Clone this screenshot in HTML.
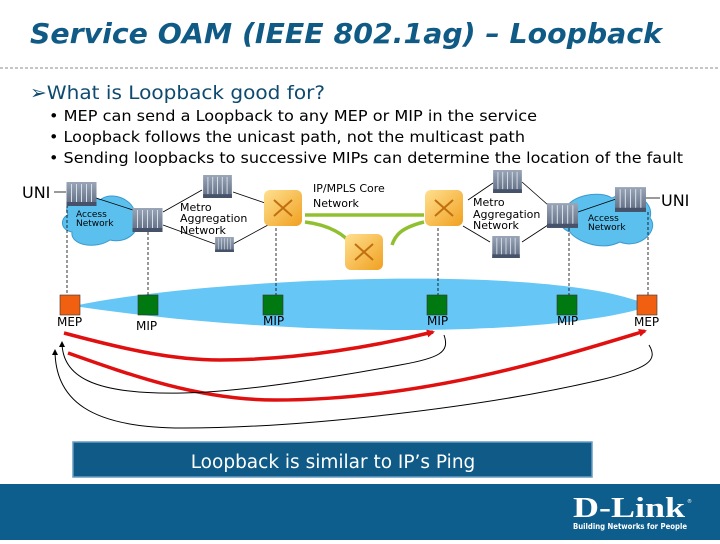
<!DOCTYPE html>
<html><head><style>
body{margin:0;width:720px;height:540px;overflow:hidden;background:#fff;font-family:"DejaVu Sans","Liberation Sans",sans-serif}
</style></head><body>
<svg width="720" height="540" xmlns="http://www.w3.org/2000/svg" font-family="DejaVu Sans, Liberation Sans, sans-serif">
<defs>
<marker id="ar" markerWidth="8" markerHeight="8" refX="6" refY="4" orient="auto" markerUnits="userSpaceOnUse"><path d="M0,0 L8,4 L0,8 z" fill="#e01010"/></marker>
<marker id="ab" markerWidth="6" markerHeight="8" refX="5" refY="4" orient="auto" markerUnits="userSpaceOnUse"><path d="M0,1 L6,4 L0,7 z" fill="#000"/></marker>
<linearGradient id="sw" x1="0" y1="0" x2="0" y2="1"><stop offset="0" stop-color="#9aa6b8"/><stop offset="1" stop-color="#5d6a80"/></linearGradient>
<linearGradient id="rt" x1="0" y1="0" x2="1" y2="1"><stop offset="0" stop-color="#ffe090"/><stop offset="1" stop-color="#f0a020"/></linearGradient>
<symbol id="s" viewBox="0 0 30 24"><rect width="30" height="24" fill="url(#sw)"/><g stroke="#d8dee8" stroke-width="1"><line x1="5" y1="2" x2="5" y2="22"/><line x1="10" y1="2" x2="10" y2="22"/><line x1="15" y1="2" x2="15" y2="22"/><line x1="20" y1="2" x2="20" y2="22"/><line x1="25" y1="2" x2="25" y2="22"/></g><rect y="20" width="30" height="4" fill="#46526a"/></symbol>
<symbol id="r" viewBox="0 0 44 42"><rect x="2" y="4" width="38" height="36" rx="6" fill="url(#rt)"/><path d="M12 14 L30 30 M12 30 L30 14" stroke="#c07010" stroke-width="2" fill="none"/></symbol>
</defs>
<text x="30" y="43" font-size="28" font-weight="bold" font-style="italic" fill="#105a86" textLength="632" lengthAdjust="spacingAndGlyphs">Service OAM (IEEE 802.1ag) – Loopback</text>
<line x1="0" y1="68" x2="720" y2="68" stroke="#666" stroke-dasharray="3,2" stroke-width="0.8"/>
<text x="30" y="99" font-size="19" fill="#0e4a70" textLength="295" lengthAdjust="spacingAndGlyphs">➢What is Loopback good for?</text>
<g font-size="15" fill="#000"><text x="49" y="121" textLength="488" lengthAdjust="spacingAndGlyphs">• MEP can send a Loopback to any MEP or MIP in the service</text><text x="49" y="142" textLength="476" lengthAdjust="spacingAndGlyphs">• Loopback follows the unicast path, not the multicast path</text><text x="49" y="163" textLength="634" lengthAdjust="spacingAndGlyphs">• Sending loopbacks to successive MIPs can determine the location of the fault</text></g>
<path d="M74 306 C 200 278, 560 262, 650 306 C 560 336, 300 340, 74 306 Z" fill="#66c6f5"/>
<g fill="#5cc0ee" stroke="#3b9ad0"><path d="M68 215 C60 200,90 192,100 200 C112 190,135 200,135 215 C145 225,130 245,110 240 C95 250,70 245,72 232 C60 230,60 218,68 215 Z"/>
<path d="M565 210 C570 195,600 190,612 198 C630 188,655 200,650 218 C660 230,640 250,620 242 C600 252,575 240,570 232 C558 228,558 215,565 210 Z"/></g>
<g stroke="#000" stroke-width="0.8" fill="none">
<line x1="54" y1="192" x2="66" y2="192"/><line x1="96" y1="198" x2="133" y2="210"/>
<line x1="163" y1="212" x2="202" y2="190"/><line x1="163" y1="225" x2="215" y2="244"/>
<line x1="233" y1="192" x2="265" y2="203"/><line x1="233" y1="244" x2="268" y2="225"/>
<line x1="468" y1="200" x2="493" y2="183"/><line x1="463" y1="226" x2="490" y2="242"/>
<line x1="522" y1="182" x2="548" y2="205"/><line x1="522" y1="242" x2="548" y2="225"/>
<line x1="578" y1="212" x2="616" y2="199"/><line x1="645" y1="198" x2="660" y2="198"/>
</g>
<g stroke="#90c030" stroke-width="3.5" fill="none"><line x1="305" y1="215" x2="424" y2="215"/><path d="M305 222 C330 225,345 235,352 245"/><path d="M424 222 C400 228,395 236,392 245"/></g>
<g stroke="#000" stroke-width="0.8" stroke-dasharray="3,2"><line x1="67" y1="205" x2="67" y2="295"/><line x1="148" y1="232" x2="148" y2="295"/><line x1="276" y1="228" x2="276" y2="295"/><line x1="438" y1="228" x2="438" y2="295"/><line x1="569" y1="228" x2="569" y2="295"/><line x1="648" y1="212" x2="648" y2="295"/></g>
<use href="#s" x="66" y="182" width="31" height="24"/><use href="#s" x="132" y="208" width="31" height="24"/>
<use href="#s" x="202" y="175" width="31" height="23"/><use href="#s" x="215" y="237" width="19" height="15"/>
<use href="#s" x="492" y="170" width="31" height="23"/><use href="#s" x="490" y="236" width="32" height="22"/>
<use href="#s" x="547" y="203" width="31" height="25"/><use href="#s" x="615" y="187" width="31" height="25"/>
<use href="#r" x="262" y="186" width="44" height="42"/><use href="#r" x="343" y="230" width="44" height="42"/><use href="#r" x="423" y="186" width="44" height="42"/>
<g font-size="11" fill="#000"><text x="180" y="211">Metro</text><text x="180" y="222">Aggregation</text><text x="180" y="234">Network</text>
<text x="473" y="206">Metro</text><text x="473" y="218">Aggregation</text><text x="473" y="229">Network</text>
<text x="313" y="192">IP/MPLS Core</text><text x="313" y="207">Network</text></g>
<g font-size="9" fill="#000"><text x="76" y="217">Access</text><text x="76" y="226">Network</text><text x="588" y="221">Access</text><text x="588" y="230">Network</text></g>
<text x="22" y="198" font-size="16">UNI</text><text x="661" y="206" font-size="16">UNI</text>
<rect x="60" y="295" width="20" height="20" fill="#f06010" stroke="#333" stroke-width="0.6"/>
<rect x="637" y="295" width="20" height="20" fill="#f06010" stroke="#333" stroke-width="0.6"/>
<g fill="#007a10" stroke="#333" stroke-width="0.6"><rect x="138" y="295" width="20" height="20"/><rect x="263" y="295" width="20" height="20"/><rect x="427" y="295" width="20" height="20"/><rect x="557" y="295" width="20" height="20"/></g>
<g font-size="12" fill="#000"><text x="57" y="326">MEP</text><text x="136" y="330">MIP</text><text x="263" y="325">MIP</text><text x="427" y="325">MIP</text><text x="557" y="325">MIP</text><text x="634" y="326">MEP</text></g>
<g stroke="#e01010" stroke-width="3.5" fill="none"><path d="M64 333 C120 348,170 360,220 360 C300 360,380 345,433 332" marker-end="url(#ar)"/>
<path d="M68 353 C130 375,200 400,275 400 C420 400,550 360,645 331" marker-end="url(#ar)"/></g>
<g stroke="#000" stroke-width="1" fill="none"><path d="M444 335 C450 352,440 358,400 365 C330 378,240 392,183 393 C90 395,62 375,62 342" marker-end="url(#ab)"/>
<path d="M649 345 C658 360,650 368,600 380 C480 408,300 428,183 428 C90 428,55 400,55 350" marker-end="url(#ab)"/></g>
<rect x="73" y="442" width="519" height="35" fill="#0f5a87" stroke="#6a9cc0" stroke-width="1.5"/>
<text x="333" y="468" font-size="18.5" fill="#fff" text-anchor="middle">Loopback is similar to IP’s Ping</text>
<rect x="0" y="484" width="720" height="56" fill="#0d5e8c"/>
<text x="573" y="517" font-family="Liberation Serif, serif" font-weight="bold" font-size="28" fill="#fff" textLength="112" lengthAdjust="spacingAndGlyphs">D-Link</text>
<text x="687" y="503" font-size="5" fill="#fff">®</text>
<text x="573" y="529" font-size="8" font-weight="bold" fill="#fff" textLength="114" lengthAdjust="spacingAndGlyphs">Building Networks for People</text>
</svg>
</body></html>
